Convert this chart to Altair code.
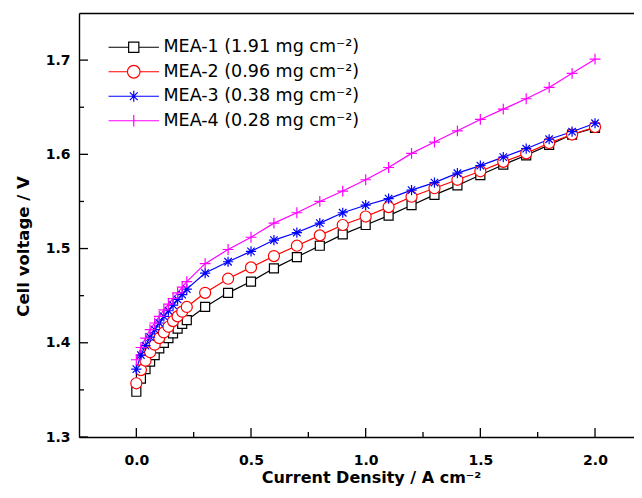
import altair as alt
import pandas as pd

# ---------------- data ----------------
current = [0.00, 0.02, 0.04, 0.06, 0.08, 0.10, 0.12, 0.14, 0.16, 0.18, 0.20, 0.22,
           0.3, 0.4, 0.5, 0.6, 0.7, 0.8, 0.9, 1.0, 1.1, 1.2, 1.3, 1.4, 1.5, 1.6,
           1.7, 1.8, 1.9, 2.0]

mea1 = [1.348, 1.362, 1.372, 1.380, 1.387, 1.394, 1.400, 1.405, 1.410, 1.415, 1.420, 1.424,
        1.438, 1.453, 1.465, 1.479, 1.491, 1.503, 1.515, 1.525, 1.535, 1.546, 1.557, 1.567,
        1.578, 1.589, 1.599, 1.610, 1.621, 1.628]
mea2 = [1.357, 1.371, 1.381, 1.390, 1.398, 1.405, 1.411, 1.417, 1.423, 1.428, 1.433, 1.438,
        1.453, 1.468, 1.480, 1.492, 1.503, 1.514, 1.525, 1.534, 1.544, 1.555, 1.564, 1.573,
        1.582, 1.592, 1.601, 1.612, 1.621, 1.629]
mea3 = [1.372, 1.387, 1.397, 1.406, 1.414, 1.421, 1.428, 1.434, 1.440, 1.446, 1.451, 1.457,
        1.474, 1.486, 1.497, 1.509, 1.517, 1.527, 1.538, 1.546, 1.553, 1.562, 1.570, 1.580,
        1.588, 1.597, 1.606, 1.616, 1.624, 1.633]
mea4 = [1.382, 1.395, 1.405, 1.414, 1.421, 1.428, 1.435, 1.441, 1.447, 1.453, 1.459, 1.465,
        1.484, 1.499, 1.512, 1.527, 1.538, 1.550, 1.561, 1.573, 1.586, 1.601, 1.613, 1.625,
        1.637, 1.648, 1.659, 1.671, 1.686, 1.701]

series_names = ["MEA-1 (1.91 mg cm⁻²)", "MEA-2 (0.96 mg cm⁻²)",
                "MEA-3 (0.38 mg cm⁻²)", "MEA-4 (0.28 mg cm⁻²)"]
colors = ["#000000", "#ff0000", "#0000ff", "#ff00ff"]

x_major = [0.0, 0.5, 1.0, 1.5, 2.0]
x_minor = [0.25, 0.75, 1.25, 1.75]
y_major = [1.3, 1.4, 1.5, 1.6, 1.7]
y_minor = [1.35, 1.45, 1.55, 1.65]

# ---------------- marker shapes ----------------
marker_paths = [
    "M-0.75,-0.75L0.75,-0.75L0.75,0.75L-0.75,0.75Z",
    "M0.92,0A0.92,0.92,0,1,1,-0.92,0A0.92,0.92,0,1,1,0.92,0Z",
    "M0,-0.85L0,0.85M-0.62,-0.62L0.62,0.62M-0.62,0.62L0.62,-0.62M-0.85,0L0.85,0",
    "M-0.9,0L0.9,0M0,-0.9L0,0.9",
]
legend_paths = [
    "M-4.2,0L-0.85,0M0.85,0L4.2,0M-0.85,-0.85L0.85,-0.85L0.85,0.85L-0.85,0.85Z",
    "M-4.2,0L-1.05,0M1.05,0L4.2,0M1.05,0A1.05,1.05,0,1,1,-1.05,0A1.05,1.05,0,1,1,1.05,0Z",
    "M-4.2,0L4.2,0M0,-0.9L0,0.9M-0.65,-0.65L0.65,0.65M-0.65,0.65L0.65,-0.65",
    "M-4.2,0L4.2,0M0,-0.95L0,0.95",
]

rows = []
for i, (name, vals) in enumerate(zip(series_names, [mea1, mea2, mea3, mea4])):
    for xv, yv in zip(current, vals):
        rows.append({"series": name, "x": xv, "v": yv, "k": i})
df = pd.DataFrame(rows)

W, H = 555, 424
FONT = "DejaVu Sans"
xscale = alt.Scale(domain=[-0.25, 2.17], nice=False, zero=False)
yscale = alt.Scale(domain=[1.3, 1.75], nice=False, zero=False)
stroke_scale = alt.Scale(domain=series_names, range=colors)

base = alt.Chart(df)

lines = base.mark_line(strokeWidth=1.2).encode(
    x=alt.X("x:Q", scale=xscale,
            axis=alt.Axis(orient="bottom", values=x_major, format=".1f", ticks=False,
                          tickSize=0, labelPadding=16, grid=False,
                          title="Current Density / A cm⁻²", titlePadding=2, titleX=292,
                          titleFontSize=16)),
    y=alt.Y("v:Q", scale=yscale,
            axis=alt.Axis(orient="left", values=y_major, format=".1f", ticks=False,
                          tickSize=0, labelPadding=9, grid=False,
                          title="Cell voltage / V", titlePadding=14, titleY=233)),
    stroke=alt.Stroke("series:N", scale=stroke_scale, legend=None),
    detail="series:N",
    order="x:Q",
)

points = base.mark_point(filled=True, fill="white", size=144, strokeWidth=1.2, opacity=1).encode(
    x=alt.X("x:Q", scale=xscale, axis=None),
    y=alt.Y("v:Q", scale=yscale, axis=None),
    stroke=alt.Stroke("series:N", scale=stroke_scale, legend=None),
    shape=alt.Shape("series:N", scale=alt.Scale(domain=series_names, range=marker_paths),
                    legend=None),
)

legend_layer = base.transform_filter("datum.x > 100").mark_point(
    filled=True, fill="white", size=144, strokeWidth=1.2, opacity=1).encode(
    x=alt.X("x:Q", scale=xscale, axis=None),
    y=alt.Y("v:Q", scale=yscale, axis=None),
    stroke=alt.Stroke("series:N", scale=stroke_scale, legend=alt.Legend(title=None)),
    shape=alt.Shape("series:N", scale=alt.Scale(domain=series_names, range=legend_paths),
                    legend=alt.Legend(title=None)),
)

frame = base.transform_filter("datum.x > 100").mark_point().encode(
    x=alt.X("x:Q", scale=xscale,
            axis=alt.Axis(orient="top", labels=False, ticks=False, domain=True,
                          title=None, grid=False)),
    y=alt.Y("v:Q", scale=yscale, axis=None),
)

# inward tick marks (axis decorations placed through the scales)
def yticks(vals, length):
    return alt.Chart(pd.DataFrame({"t": vals})).mark_tick(
        color="black", thickness=1.3, size=length, opacity=1).encode(
        y=alt.Y("t:Q", scale=yscale, axis=None),
        x=alt.value(length / 2))

def xticks(vals, length):
    return alt.Chart(pd.DataFrame({"t": vals})).mark_tick(
        color="black", thickness=1.3, size=length, opacity=1).encode(
        x=alt.X("t:Q", scale=xscale, axis=None),
        y=alt.value(H - length / 2))

chart = (
    alt.layer(lines, points, legend_layer, frame,
              yticks(y_major, 9), yticks(y_minor, 5), xticks(x_major, 9), xticks(x_minor, 5))
    .resolve_scale(stroke="independent", shape="independent")
    .resolve_axis(x="independent", y="independent")
    .properties(width=W, height=H,
                padding={"left": 71, "top": 5, "right": 0, "bottom": 49},
                autosize=alt.AutoSizeParams(type="none"))
    .configure_view(stroke=None)
    .configure_axis(labelFont=FONT, labelFontWeight="bold", labelFontSize=14,
                    labelColor="black", titleFont=FONT, titleFontWeight="bold",
                    titleFontSize=16.5, titleColor="black", tickColor="black",
                    tickWidth=1.2, domainColor="black", domainWidth=1.4)
    .configure_legend(orient="none", legendX=46, legendY=25.5, symbolSize=144,
                      symbolStrokeWidth=1.2, symbolFillColor="white",
                      labelFont=FONT, labelFontSize=17.5, labelColor="black",
                      labelOffset=21, rowPadding=5.5, padding=0, labelLimit=0)
)

chart.save("out.html", embed_options={"renderer": "svg", "actions": False})
